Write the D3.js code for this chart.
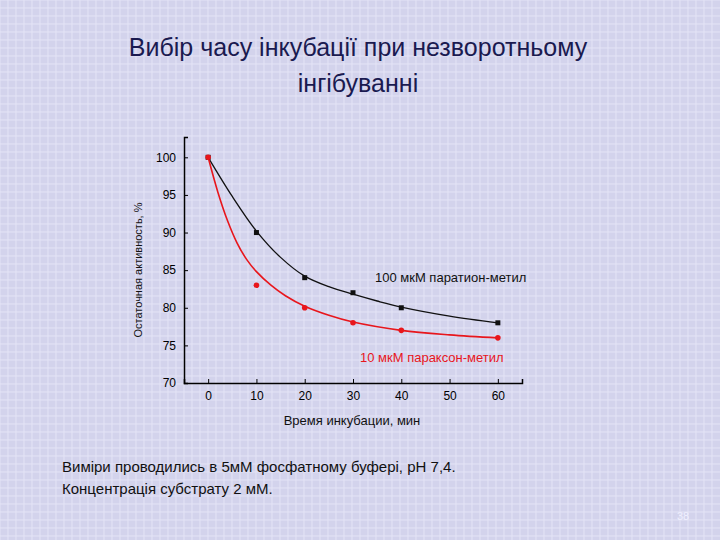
<!DOCTYPE html><html><head><meta charset="utf-8"><script src="https://cdn.jsdelivr.net/npm/d3@7"></script>
<style>body{margin:0}svg{display:block}</style></head><body><svg id="c" width="720" height="540"></svg>
<script>
const xTicks=[0,10,20,30,40,50,60];
const yTicks=[70,75,80,85,90,95,100];
const times=[0,10,20,30,40,60];
const parathion=[100,90,84,82,80,78];
const paraoxon=[100,83,80,78,77,76];
const fitX1=[0,5,10,15,20,25,30,35,40,50,60];
const fitY1=[100,94.8,90.2,86.7,84.2,82.8,81.8,80.9,80.1,78.9,78];
const fitX2=[0,2,4,6,8,10,13,16,20,25,30,40,50,60];
const fitY2=[100,95.4,91.6,88.6,86.4,84.8,83,81.6,80.2,79,78.1,77,76.4,76];
const svg=d3.select("#c");
svg.append("rect").attr("width",720).attr("height",540).attr("fill","#d3d3ec");
const g0=svg.append("g").attr("stroke","#e4e4f6").attr("stroke-width",1);
for(let i=0;i<720;i+=8)g0.append("line").attr("x1",i).attr("x2",i).attr("y1",0).attr("y2",540);
for(let i=0;i<540;i+=8)g0.append("line").attr("y1",i).attr("y2",i).attr("x1",0).attr("x2",720);
const x=d3.scaleLinear().domain([-5,65]).range([184,522]);
const y=d3.scaleLinear().domain([70,102.7]).range([383,137]);
svg.append("g").attr("transform","translate(0,383)").call(d3.axisBottom(x).tickValues(xTicks).tickSize(-4).tickPadding(8))
 .call(a=>{a.selectAll("text").attr("font-size",12).attr("font-family","Liberation Sans");a.select(".domain").attr("stroke-width",1.5);});
svg.append("g").attr("transform","translate(184,0)").call(d3.axisLeft(y).tickValues(yTicks).tickSize(-4).tickPadding(8))
 .call(a=>{a.selectAll("text").attr("font-size",12).attr("font-family","Liberation Sans");a.select(".domain").attr("stroke-width",1.5);});
const line=d3.line().x(d=>x(d[0])).y(d=>y(d[1])).curve(d3.curveCatmullRom);
svg.append("path").attr("d",line(fitX1.map((v,i)=>[v,fitY1[i]]))).attr("fill","none").attr("stroke","#111").attr("stroke-width",1.3);
svg.append("path").attr("d",line(fitX2.map((v,i)=>[v,fitY2[i]]))).attr("fill","none").attr("stroke","#e8161c").attr("stroke-width",1.6);
svg.selectAll(".b").data(times).enter().append("rect").attr("x",d=>x(d)-2.5).attr("y",(d,i)=>y(parathion[i])-2.5).attr("width",5).attr("height",5).attr("fill","#111");
svg.selectAll(".r").data(times).enter().append("circle").attr("cx",d=>x(d)).attr("cy",(d,i)=>y(paraoxon[i])).attr("r",2.8).attr("fill","#e8161c");
const t=(s,xx,yy,sz,col,anc)=>svg.append("text").attr("x",xx).attr("y",yy).attr("font-size",sz).attr("fill",col||"#111").attr("font-family","Liberation Sans").attr("text-anchor",anc||"start").text(s);
t("100 мкМ паратион-метил",375,282,13);
t("10 мкМ параксон-метил",360,362,13,"#e8161c");
t("Время инкубации, мин",352,425,13,"#111","middle");
t("Остаточная активность, %",0,0,11,"#111","middle").attr("transform","translate(142,270) rotate(-90)");
t("Вибір часу інкубації при незворотньому",358,56,25,"#1a1a50","middle");
t("інгібуванні",358,92,25,"#1a1a50","middle");
t("Виміри проводились в 5мМ фосфатному буфері, рН 7,4.",62,472,15);
t("Концентрація субстрату 2 мМ.",62,494,15);
t("38",683,520,11,"#f0f0ff","middle");
</script></body></html>
